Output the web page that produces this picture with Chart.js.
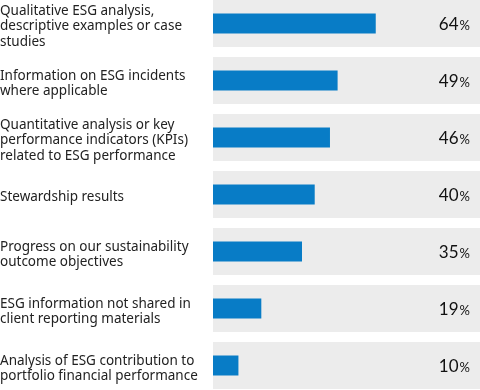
<!DOCTYPE html>
<html>
<head>
<meta charset="utf-8">
<script src="https://cdn.jsdelivr.net/npm/chart.js@4.4.0/dist/chart.umd.min.js"></script>
<style>
  html, body { margin: 0; padding: 0; background: #fff; overflow: hidden; }
  #wrap { position: absolute; left: 0; top: -5px; width: 480px; height: 399px; }
</style>
</head>
<body>
<div id="wrap"><canvas id="myChart"></canvas></div>
<script>
// categories (split into lines as in the picture)
const categories = [
  ['Qualitative ESG analysis,', 'descriptive examples or case', 'studies'],
  ['Information on ESG incidents', 'where applicable'],
  ['Quantitative analysis or key', 'performance indicators (KPIs)', 'related to ESG performance'],
  ['Stewardship results'],
  ['Progress on our sustainability', 'outcome objectives'],
  ['ESG information not shared in', 'client reporting materials'],
  ['Analysis of ESG contribution to', 'portfolio financial performance']
];
const shares = [64, 49, 46, 40, 35, 19, 10];
const axisMax = 105;

// grey row boxes behind each bar
const rowBoxes = {
  id: 'rowBoxes',
  beforeDatasetsDraw(chart) {
    const { ctx, scales: { x, y } } = chart;
    const band = y.getPixelForTick(1) - y.getPixelForTick(0);
    const h = band * 47 / 57;
    ctx.save();
    ctx.fillStyle = '#ececec';
    categories.forEach((c, i) => {
      const cy = y.getPixelForTick(i);
      ctx.fillRect(x.left, cy - h / 2, x.right - x.left, h);
    });
    ctx.restore();
  }
};

// percentage labels at the right end
const valueLabels = {
  id: 'valueLabels',
  afterDatasetsDraw(chart) {
    const { ctx, scales: { x, y } } = chart;
    ctx.save();
    ctx.fillStyle = '#111';
    ctx.textBaseline = 'middle';
    shares.forEach((v, i) => {
      const cy = y.getPixelForValue(i) + 1;
      const right = x.right - 10;
      ctx.font = '13px Lato';
      const pw = ctx.measureText('%').width;
      ctx.textAlign = 'right';
      ctx.fillText('%', right, cy + 1);
      ctx.font = '17px Lato';
      ctx.fillText(String(v), right - pw - 1, cy);
    });
    ctx.restore();
  }
};

const ctx = document.getElementById('myChart');

new Chart(ctx, {
  type: 'bar',
  data: {
    labels: categories,
    datasets: [{
      data: shares,
      backgroundColor: '#087cc6',
      barPercentage: 20 / 57,
      categoryPercentage: 1
    }]
  },
  options: {
    indexAxis: 'y',
    responsive: true,
    maintainAspectRatio: false,
    animation: false,
    layout: { padding: 0 },
    plugins: {
      legend: { display: false },
      tooltip: { enabled: false }
    },
    scales: {
      x: {
        display: false,
        min: 0,
        max: axisMax
      },
      y: {
        grid: { display: false },
        border: { display: false },
        ticks: {
          crossAlign: 'far',
          padding: 0,
          labelOffset: 3,
          color: '#222',
          font: { family: 'Noto Sans', size: 13.5, lineHeight: 1.16 }
        },
        afterFit(scale) {
          scale.width = 213;
          scale.paddingTop = 0;
          scale.paddingBottom = 0;
        }
      }
    }
  },
  plugins: [rowBoxes, valueLabels]
});
</script>
</body>
</html>
